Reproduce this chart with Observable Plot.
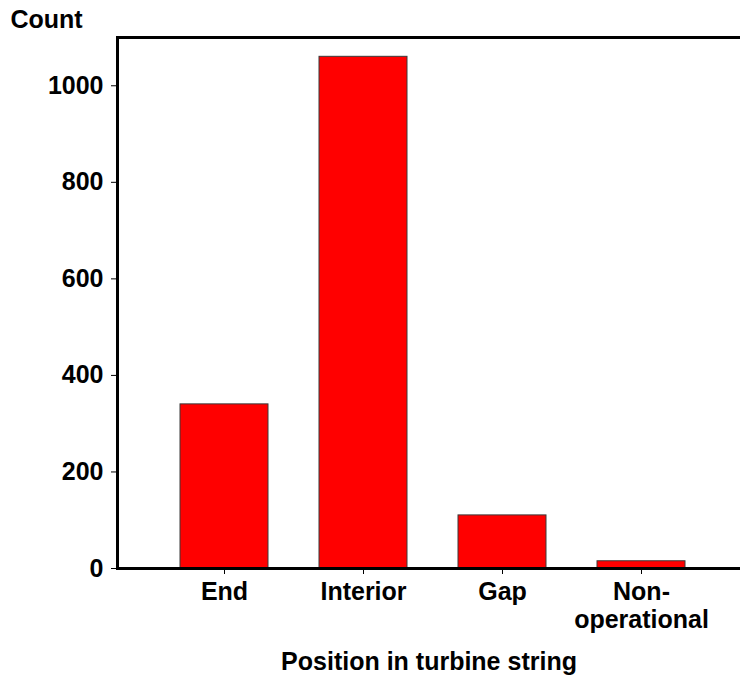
<!DOCTYPE html>
<html><head><meta charset="utf-8">
<script src="https://cdn.jsdelivr.net/npm/d3@7"></script>
<script src="https://cdn.jsdelivr.net/npm/@observablehq/plot@0.6"></script>
<style>body{margin:0;background:#fff}</style>
</head><body><div id="chart"></div>
<script>
const categories = ["End", "Interior", "Gap", "Non-operational"];
const counts = [340, 1060, 110, 15];
const yTicks = [0, 200, 400, 600, 800, 1000];
const tickLabels = ["End", "Interior", "Gap", "Non-\noperational"];
const xTitle = "Position in turbine string";
const yTitle = "Count";

const data = categories.map((c, i) => ({category: c, count: counts[i]}));
const labelOf = d => tickLabels[categories.indexOf(d)];
const font = "Arial, 'Liberation Sans', sans-serif";

const chart = Plot.plot({
  width: 740, height: 680,
  marginLeft: 117, marginTop: 37, marginBottom: 112, marginRight: 0,
  style: {fontFamily: font, fontWeight: "bold", color: "#000", background: "#fff"},
  x: {domain: categories, range: [117, 748], paddingInner: 0.37, paddingOuter: 0.444, align: 0.5},
  y: {domain: [0, 1100]},
  marks: [
    Plot.barY(data, {x: "category", y: "count", fill: "#ff0000", stroke: "#3a3a3a", strokeWidth: 1}),
    Plot.frame({anchor: "left", strokeWidth: 3}),
    Plot.frame({anchor: "top", strokeWidth: 3}),
    Plot.frame({anchor: "bottom", strokeWidth: 3}),
    Plot.axisY({ticks: yTicks, tickFormat: d3.format("d"), tickSize: 6, tickPadding: 8, fontSize: 25, fontWeight: "bold", label: null}),
    Plot.axisX({tickSize: 6, tickPadding: 6, fontSize: 25, fontWeight: "bold", tickFormat: labelOf, lineHeight: 1.12, label: null}),
    Plot.text([yTitle], {frameAnchor: "top-left", textAnchor: "start", dx: -107, dy: -27, fontSize: 25, fontWeight: "bold"}),
    Plot.text([xTitle], {frameAnchor: "bottom", dy: 101, fontSize: 25, fontWeight: "bold"})
  ]
});
document.getElementById("chart").appendChild(chart);
</script>
</body></html>
